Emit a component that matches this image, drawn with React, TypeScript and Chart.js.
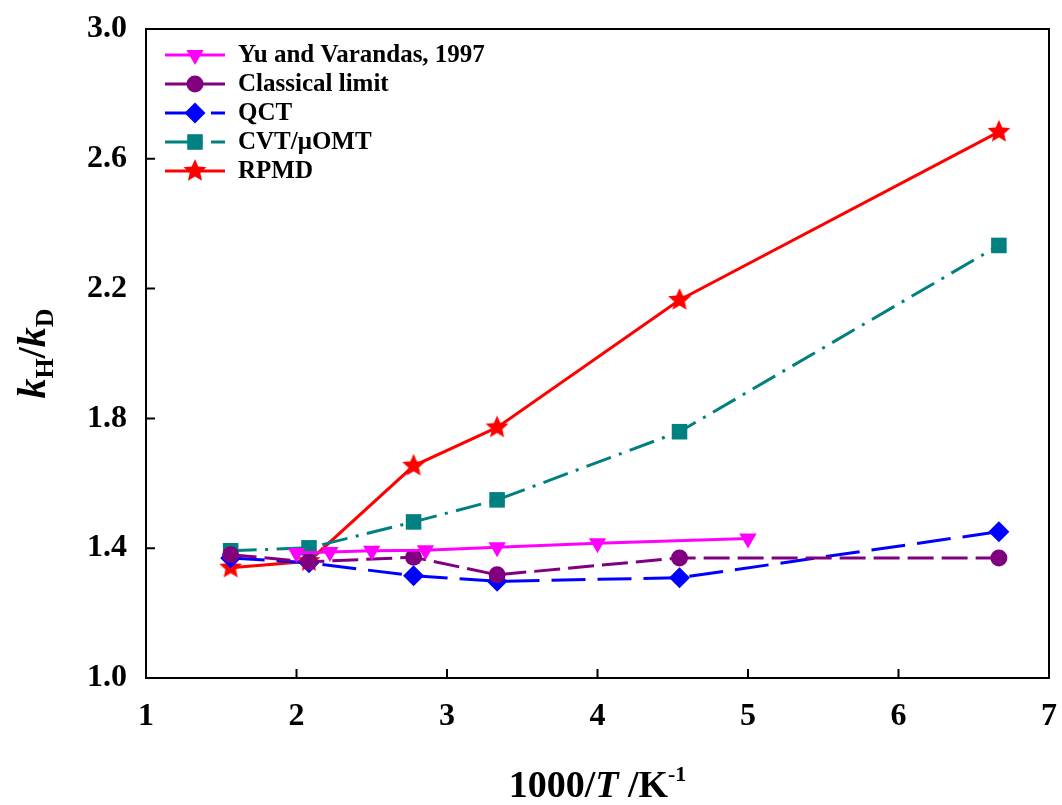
import React, { useEffect, useRef } from 'react';
import { Chart, registerables } from 'chart.js';

Chart.register(...registerables);

// ---- data ----
const tempX = [1.5625, 2.083, 2.778, 3.333, 4.545, 6.667];
const yuX = [2.0, 2.222, 2.5, 2.857, 3.333, 4.0, 5.0];
const yuY = [1.385, 1.388, 1.392, 1.394, 1.403, 1.415, 1.43];
const classicalY = [1.38, 1.358, 1.372, 1.318, 1.37, 1.37];
const qctY = [1.37, 1.355, 1.315, 1.298, 1.309, 1.451];
const cvtY = [1.392, 1.401, 1.481, 1.549, 1.759, 2.333];
const rpmdY = [1.34, 1.36, 1.654, 1.772, 2.165, 2.683];
const seriesLabels = ['Yu and Varandas, 1997', 'Classical limit', 'QCT', 'CVT/\u03bcOMT', 'RPMD'];
const xTicks = [1, 2, 3, 4, 5, 6, 7];
const yTicks = [1.0, 1.4, 1.8, 2.2, 2.6, 3.0];

const FAMILY = "'Liberation Serif', 'Times New Roman', serif";

function makeStar(color: string, R: number, r: number) {
  const c = document.createElement('canvas');
  const s = Math.ceil(R * 2 + 2);
  c.width = s;
  c.height = s;
  const g = c.getContext('2d')!;
  g.fillStyle = color;
  g.beginPath();
  for (let i = 0; i < 10; i++) {
    const a = -Math.PI / 2 + (i * Math.PI) / 5;
    const rad = i % 2 === 0 ? R : r;
    g.lineTo(s / 2 + rad * Math.cos(a), s / 2 + rad * Math.sin(a));
  }
  g.closePath();
  g.fill();
  return c;
}

function drawMarker(ctx: CanvasRenderingContext2D, ds: any, x: number, y: number) {
  const style = ds.pointStyle;
  const r = ds.pointRadius;
  ctx.save();
  ctx.setLineDash([]);
  ctx.fillStyle = ds.backgroundColor;
  if (style instanceof HTMLCanvasElement) {
    ctx.drawImage(style, x - style.width / 2, y - style.height / 2);
    ctx.restore();
    return;
  }
  ctx.beginPath();
  if (style === 'circle') {
    ctx.arc(x, y, r, 0, Math.PI * 2);
  } else if (style === 'triangle') {
    const rot = ((ds.pointRotation || 0) * Math.PI) / 180;
    for (let i = 0; i < 3; i++) {
      const a = rot + (i * 2 * Math.PI) / 3;
      ctx.lineTo(x + Math.sin(a) * r, y - Math.cos(a) * r);
    }
  } else if (style === 'rectRot') {
    ctx.moveTo(x, y - r);
    ctx.lineTo(x + r, y);
    ctx.lineTo(x, y + r);
    ctx.lineTo(x - r, y);
  } else if (style === 'rect') {
    const h = r * Math.SQRT1_2;
    ctx.rect(x - h, y - h, 2 * h, 2 * h);
  }
  ctx.closePath();
  ctx.fill();
  ctx.restore();
}

type Run = { t: string; font: string; dy: number };
function drawRuns(ctx: CanvasRenderingContext2D, runs: Run[], cx: number, baseline: number) {
  const widths: number[] = [];
  let total = 0;
  for (const r of runs) {
    ctx.font = r.font;
    const w = ctx.measureText(r.t).width;
    widths.push(w);
    total += w;
  }
  let x = cx - total / 2;
  ctx.textAlign = 'left';
  ctx.textBaseline = 'alphabetic';
  runs.forEach((r, i) => {
    ctx.font = r.font;
    ctx.fillText(r.t, x, baseline + r.dy);
    x += widths[i];
  });
}

const decorPlugin = {
  id: 'decor',
  afterDraw(chart: any) {
    const { ctx, chartArea: a, scales } = chart;
    const xs = scales.x;
    const ys = scales.y;
    ctx.save();
    // frame
    ctx.strokeStyle = '#000';
    ctx.lineWidth = 2;
    ctx.setLineDash([]);
    ctx.strokeRect(a.left, a.top, a.right - a.left, a.bottom - a.top);
    // inward ticks
    ctx.beginPath();
    for (const v of xTicks) {
      const px = xs.getPixelForValue(v);
      ctx.moveTo(px, a.bottom);
      ctx.lineTo(px, a.bottom - 9);
    }
    for (const v of yTicks) {
      const py = ys.getPixelForValue(v);
      ctx.moveTo(a.left, py);
      ctx.lineTo(a.left + 9, py);
    }
    ctx.stroke();

    // axis titles
    ctx.fillStyle = '#000';
    const cx = (a.left + a.right) / 2;
    drawRuns(
      ctx,
      [
        { t: '1000/', font: `bold 38px ${FAMILY}`, dy: 0 },
        { t: 'T', font: `italic bold 38px ${FAMILY}`, dy: 0 },
        { t: ' /K', font: `bold 38px ${FAMILY}`, dy: 0 },
        { t: '-1', font: `bold 22px ${FAMILY}`, dy: -16 },
      ],
      cx,
      797
    );
    ctx.save();
    ctx.translate(45, (a.top + a.bottom) / 2);
    ctx.rotate(-Math.PI / 2);
    drawRuns(
      ctx,
      [
        { t: 'k', font: `italic bold 40px ${FAMILY}`, dy: 0 },
        { t: 'H', font: `bold 26px ${FAMILY}`, dy: 8 },
        { t: '/', font: `bold 40px ${FAMILY}`, dy: 0 },
        { t: 'k', font: `italic bold 40px ${FAMILY}`, dy: 0 },
        { t: 'D', font: `bold 26px ${FAMILY}`, dy: 8 },
      ],
      0,
      0
    );
    ctx.restore();

    // legend
    const dsets = chart.data.datasets;
    dsets.forEach((ds: any, i: number) => {
      const y = 55 + 29 * i;
      ctx.save();
      ctx.strokeStyle = ds.borderColor;
      ctx.lineWidth = 3;
      ctx.setLineDash(ds.borderDash || []);
      ctx.beginPath();
      ctx.moveTo(165, y);
      ctx.lineTo(225, y);
      ctx.stroke();
      ctx.restore();
      drawMarker(ctx, ds, 195, y);
      ctx.fillStyle = '#000';
      ctx.font = `bold 25px ${FAMILY}`;
      ctx.textAlign = 'left';
      ctx.textBaseline = 'middle';
      ctx.fillText(ds.label, 238, y + 1);
    });
    ctx.restore();
  },
};

export default function App() {
  const ref = useRef<HTMLCanvasElement | null>(null);
  useEffect(() => {
    if (!ref.current) return;
    const star = makeStar('#FF0000', 12, 5.5);
    const pts = (xs: number[], ys: number[]) => xs.map((x, i) => ({ x, y: ys[i] }));
    const common = { borderWidth: 3, pointBorderWidth: 0, tension: 0, fill: false };
    const chart = new Chart(ref.current, {
      type: 'line',
      data: {
        datasets: [
          {
            ...common,
            label: seriesLabels[0],
            data: pts(yuX, yuY),
            borderColor: '#FF00FF',
            backgroundColor: '#FF00FF',
            pointStyle: 'triangle',
            pointRotation: 180,
            pointRadius: 10,
          },
          {
            ...common,
            label: seriesLabels[1],
            data: pts(tempX, classicalY),
            borderColor: '#800080',
            backgroundColor: '#800080',
            borderDash: [26, 8],
            pointStyle: 'circle',
            pointRadius: 8.5,
          },
          {
            ...common,
            label: seriesLabels[2],
            data: pts(tempX, qctY),
            borderColor: '#0000FF',
            backgroundColor: '#0000FF',
            borderDash: [34, 12],
            pointStyle: 'rectRot',
            pointRadius: 10.5,
          },
          {
            ...common,
            label: seriesLabels[3],
            data: pts(tempX, cvtY),
            borderColor: '#008080',
            backgroundColor: '#008080',
            borderDash: [26, 8.5, 3, 8.5],
            pointStyle: 'rect',
            pointRadius: 11,
          },
          {
            ...common,
            label: seriesLabels[4],
            data: pts(tempX, rpmdY),
            borderColor: '#FF0000',
            backgroundColor: '#FF0000',
            pointStyle: star as any,
            pointRadius: 12,
          },
        ] as any,
      },
      options: {
        animation: false,
        responsive: false,
        events: [],
        layout: { padding: { top: 29, right: 13, left: 0, bottom: 0 } },
        plugins: { legend: { display: false }, tooltip: { enabled: false } },
        scales: {
          x: {
            type: 'linear',
            min: 1,
            max: 7,
            afterBuildTicks: (s: any) => {
              s.ticks = xTicks.map((v) => ({ value: v }));
            },
            afterFit: (s: any) => {
              s.height = 127;
              s.paddingLeft = 0;
              s.paddingRight = 0;
              s.paddingTop = 0;
              s.paddingBottom = 0;
            },
            grid: { display: false, drawTicks: false },
            border: { display: false },
            ticks: {
              padding: 20,
              color: '#000',
              font: { family: FAMILY, size: 32, weight: 'bold' },
              callback: (v: any) => String(v),
            },
          },
          y: {
            type: 'linear',
            min: 1,
            max: 3,
            afterBuildTicks: (s: any) => {
              s.ticks = yTicks.map((v) => ({ value: v }));
            },
            afterFit: (s: any) => {
              s.width = 146;
              s.paddingLeft = 0;
              s.paddingRight = 0;
              s.paddingTop = 0;
              s.paddingBottom = 0;
            },
            grid: { display: false, drawTicks: false },
            border: { display: false },
            ticks: {
              padding: 19,
              color: '#000',
              font: { family: FAMILY, size: 32, weight: 'bold' },
              callback: (v: any) => Number(v).toFixed(1),
            },
          },
        },
      } as any,
      plugins: [decorPlugin],
    });
    return () => chart.destroy();
  }, []);
  return (
    <div style={{ position: 'absolute', left: 0, top: 0, width: 1062, height: 805, background: '#fff' }}>
      <canvas ref={ref} width={1062} height={805} style={{ width: 1062, height: 805, display: 'block' }} />
    </div>
  );
}
